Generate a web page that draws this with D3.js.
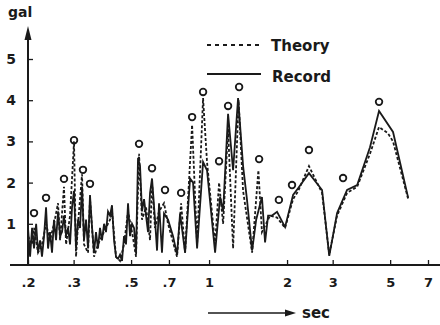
<!DOCTYPE html>
<html>
<head>
<meta charset="utf-8">
<script src="https://cdn.jsdelivr.net/npm/d3@7"></script>
<style>
  body { margin: 0; background: #fff; }
  text { font-family: 'DejaVu Sans', sans-serif; fill: #1a1a1a; font-weight: bold; }
</style>
</head>
<body>
<div id="myPlot"></div>
<script>
// period (sec) and amplitude (gal)
const recordT = [0.200, 0.2037, 0.2074, 0.211, 0.215, 0.2187, 0.2227, 0.2265, 0.2307, 0.2348,
  0.239, 0.2432, 0.2476, 0.252, 0.2566, 0.2612, 0.266, 0.2706, 0.2754, 0.2805,
  0.2855, 0.2906, 0.2958, 0.3011, 0.3065, 0.312, 0.3176, 0.3233, 0.329, 0.335,
  0.341, 0.347, 0.3535, 0.3597, 0.366, 0.3726, 0.3793, 0.386, 0.3933, 0.40,
  0.4073, 0.4146, 0.422, 0.4297, 0.4374, 0.4453, 0.4532, 0.4613, 0.4696, 0.478,
  0.4866, 0.4953, 0.5042, 0.5133, 0.5225, 0.5318, 0.5414, 0.551, 0.561, 0.571,
  0.5813, 0.5917, 0.6023, 0.6185, 0.6297, 0.641, 0.658, 0.670, 0.6944, 0.726,
  0.7522, 0.7727, 0.808, 0.8446, 0.8673, 0.899, 0.948, 0.982, 1.055, 1.103,
  1.133, 1.184, 1.238, 1.294, 1.353, 1.40, 1.466, 1.52, 1.60, 1.645, 1.69,
  1.75, 1.83, 1.965, 2.11, 2.21, 2.43, 2.73, 2.91, 3.12, 3.41, 3.73, 4.18, 4.53, 5.13, 5.87];
const recordV = [0.9, 0.2, 0.9, 0.4, 1.0, 0.3, 0.6, 0.2, 0.7, 1.4,
  0.4, 0.8, 0.3, 1.1, 0.6, 1.3, 0.7, 0.8, 1.2, 0.7,
  0.9, 0.5, 1.4, 1.8, 0.4, 1.1, 0.9, 1.9, 0.6, 1.1,
  0.4, 1.7, 0.9, 0.3, 0.8, 0.4, 0.9, 0.6, 1.0, 0.8,
  1.3, 1.2, 1.45, 0.6, 0.2, 0.15, 0.25, 0.1, 0.7, 0.5,
  1.5, 0.7, 1.0, 0.9, 0.3, 2.6, 2.4, 1.3, 1.6, 1.2,
  0.8, 1.75, 2.1, 1.1, 0.35, 1.5, 0.3, 1.25, 1.1, 0.7,
  0.25, 1.25, 0.3, 2.1, 2.0, 0.4, 2.5, 2.3, 0.3, 1.65,
  1.3, 3.67, 2.3, 4.05, 2.4, 1.6, 0.35, 1.1, 1.65, 0.55, 1.2,
  1.2, 1.29, 0.92, 1.70, 1.87, 2.23, 1.82, 0.22, 1.26, 1.82, 1.94, 2.86, 3.74, 3.23, 1.63];

const theoryT = [0.200, 0.2074, 0.211, 0.2187, 0.2265, 0.2348, 0.2432, 0.252, 0.2612, 0.266,
  0.2754, 0.2805, 0.2906, 0.3011, 0.3065, 0.312, 0.3233, 0.329, 0.341, 0.347,
  0.3597, 0.3726, 0.386, 0.40, 0.4146, 0.422, 0.4374, 0.4532, 0.4696, 0.4866,
  0.5042, 0.5225, 0.5366, 0.551, 0.571, 0.5917, 0.6023, 0.6185, 0.641, 0.670,
  0.6944, 0.7522, 0.78, 0.808, 0.86, 0.899, 0.948, 0.982, 1.055, 1.093,
  1.133, 1.184, 1.238, 1.30, 1.353, 1.466, 1.55, 1.60, 1.72, 1.83, 1.965,
  2.11, 2.21, 2.43, 2.73, 2.91, 3.12, 3.41, 3.73, 4.18, 4.53, 4.90, 5.13, 5.87];
const theoryV = [0.7, 0.5, 0.9, 0.3, 0.5, 1.0, 0.6, 1.0, 1.5, 0.6,
  1.9, 0.5, 1.2, 3.0, 0.2, 1.0, 2.2, 0.5, 0.3, 1.6,
  0.2, 0.5, 0.7, 0.9, 1.1, 1.3, 0.2, 0.1, 0.5, 1.3,
  0.8, 0.2, 2.7, 1.1, 1.4, 0.6, 2.0, 0.9, 1.3, 1.5,
  1.0, 0.2, 1.5, 0.3, 3.4, 0.5, 4.05, 2.5, 0.5, 2.0,
  1.0, 3.3, 0.4, 4.0, 1.8, 0.3, 2.3, 0.8, 1.2, 1.15, 0.9,
  1.6, 1.8, 2.4, 1.75, 0.25, 1.2, 1.75, 1.9, 2.7, 3.35, 3.2, 3.0, 1.6];

// small open circles above the peaks
const peakT = [0.211, 0.2348, 0.2754, 0.3011, 0.326, 0.347, 0.5366, 0.6023, 0.676, 0.78,
  0.86, 0.948, 1.093, 1.184, 1.306, 1.56, 1.86, 2.09, 2.43, 3.29, 4.53];
const peakV = [1.26, 1.63, 2.09, 3.03, 2.31, 1.97, 2.94, 2.35, 1.82, 1.75,
  3.59, 4.2, 2.52, 3.86, 4.32, 2.57, 1.58, 1.94, 2.79, 2.11, 3.96];

const xTicks = [0.2, 0.3, 0.5, 0.7, 1, 2, 3, 5, 7];
const xTickLabels = ['.2', '.3', '.5', '.7', '1', '2', '3', '5', '7'];
const yTicks = [1, 2, 3, 4, 5];

const width = 440;
const height = 325;

const svg = d3.select('#myPlot')
  .append('svg')
    .attr('width', width)
    .attr('height', height);

const x = d3.scaleLog()
  .domain([0.2, 7])
  .range([28, 428]);
const y = d3.scaleLinear()
  .domain([0, 5])
  .range([265, 59]);

const ink = '#1a1a1a';

// X axis: ticks point up, labels below
const xAxis = d3.axisBottom(x)
  .tickValues(xTicks)
  .tickFormat((d, i) => xTickLabels[i])
  .tickSizeInner(-5)
  .tickSizeOuter(0)
  .tickPadding(13);
const gx = svg.append('g')
  .attr('transform', 'translate(0,' + y(0) + ')')
  .call(xAxis);
gx.select('.domain').remove();
gx.selectAll('line').attr('stroke', ink).attr('stroke-width', 1.3);
gx.selectAll('text')
  .style('font-size', '13px')
  .style('font-family', "'DejaVu Sans', sans-serif")
  .style('font-weight', 'bold')
  .attr('fill', ink);
svg.append('line')
  .attr('x1', 10).attr('x2', 440)
  .attr('y1', y(0)).attr('y2', y(0))
  .attr('stroke', ink)
  .attr('stroke-width', 2.2);

// Y axis with arrow
const yAxis = d3.axisLeft(y)
  .tickValues(yTicks)
  .tickFormat(d3.format('d'))
  .tickSizeInner(-5)
  .tickSizeOuter(0)
  .tickPadding(12);
const gy = svg.append('g')
  .attr('transform', 'translate(' + x(0.2) + ',0)')
  .call(yAxis);
gy.select('.domain').remove();
gy.selectAll('line').attr('stroke', ink).attr('stroke-width', 1.3);
gy.selectAll('text')
  .style('font-size', '14px')
  .style('font-family', "'DejaVu Sans', sans-serif")
  .style('font-weight', 'bold')
  .attr('fill', ink);
svg.append('line')
  .attr('x1', x(0.2)).attr('x2', x(0.2))
  .attr('y1', y(0)).attr('y2', 36)
  .attr('stroke', ink)
  .attr('stroke-width', 2);
svg.append('path')
  .attr('d', d3.line()([[x(0.2), 26], [x(0.2) - 3.5, 40], [x(0.2) + 3.5, 40]]) + 'Z')
  .attr('fill', ink);
svg.append('text')
  .attr('x', 8).attr('y', 17)
  .style('font-size', '14px')
  .text('gal');

// curves
const line = d3.line()
  .x((d) => x(d[0]))
  .y((d) => y(d[1]));

svg.append('path')
  .datum(theoryT.map((t, i) => [t, theoryV[i]]))
  .attr('d', line)
  .attr('fill', 'none')
  .attr('stroke', ink)
  .attr('stroke-width', 1.8)
  .attr('stroke-dasharray', '3,2');

svg.append('path')
  .datum(recordT.map((t, i) => [t, recordV[i]]))
  .attr('d', line)
  .attr('fill', 'none')
  .attr('stroke', ink)
  .attr('stroke-width', 1.8);

svg.selectAll('circle.peak')
  .data(peakT.map((t, i) => [t, peakV[i]]))
  .enter()
  .append('circle')
    .attr('class', 'peak')
    .attr('cx', (d) => x(d[0]))
    .attr('cy', (d) => y(d[1]))
    .attr('r', 3.3)
    .attr('fill', 'none')
    .attr('stroke', ink)
    .attr('stroke-width', 1.8);

// legend
svg.append('line')
  .attr('x1', 207).attr('x2', 260)
  .attr('y1', 45).attr('y2', 45)
  .attr('stroke', ink)
  .attr('stroke-width', 1.8)
  .attr('stroke-dasharray', '4,4');
svg.append('text')
  .attr('x', 271).attr('y', 51)
  .style('font-size', '15px')
  .text('Theory');
svg.append('line')
  .attr('x1', 207).attr('x2', 261)
  .attr('y1', 74).attr('y2', 74)
  .attr('stroke', ink)
  .attr('stroke-width', 1.8);
svg.append('text')
  .attr('x', 272).attr('y', 82)
  .style('font-size', '15px')
  .text('Record');

// "sec" arrow under the axis
svg.append('line')
  .attr('x1', 208).attr('x2', 288)
  .attr('y1', 313).attr('y2', 313)
  .attr('stroke', ink)
  .attr('stroke-width', 1.6);
svg.append('path')
  .attr('d', d3.line()([[296, 313], [285, 309.5], [285, 316.5]]) + 'Z')
  .attr('fill', ink);
svg.append('text')
  .attr('x', 302).attr('y', 318)
  .style('font-size', '15px')
  .text('sec');
</script>
</body>
</html>
